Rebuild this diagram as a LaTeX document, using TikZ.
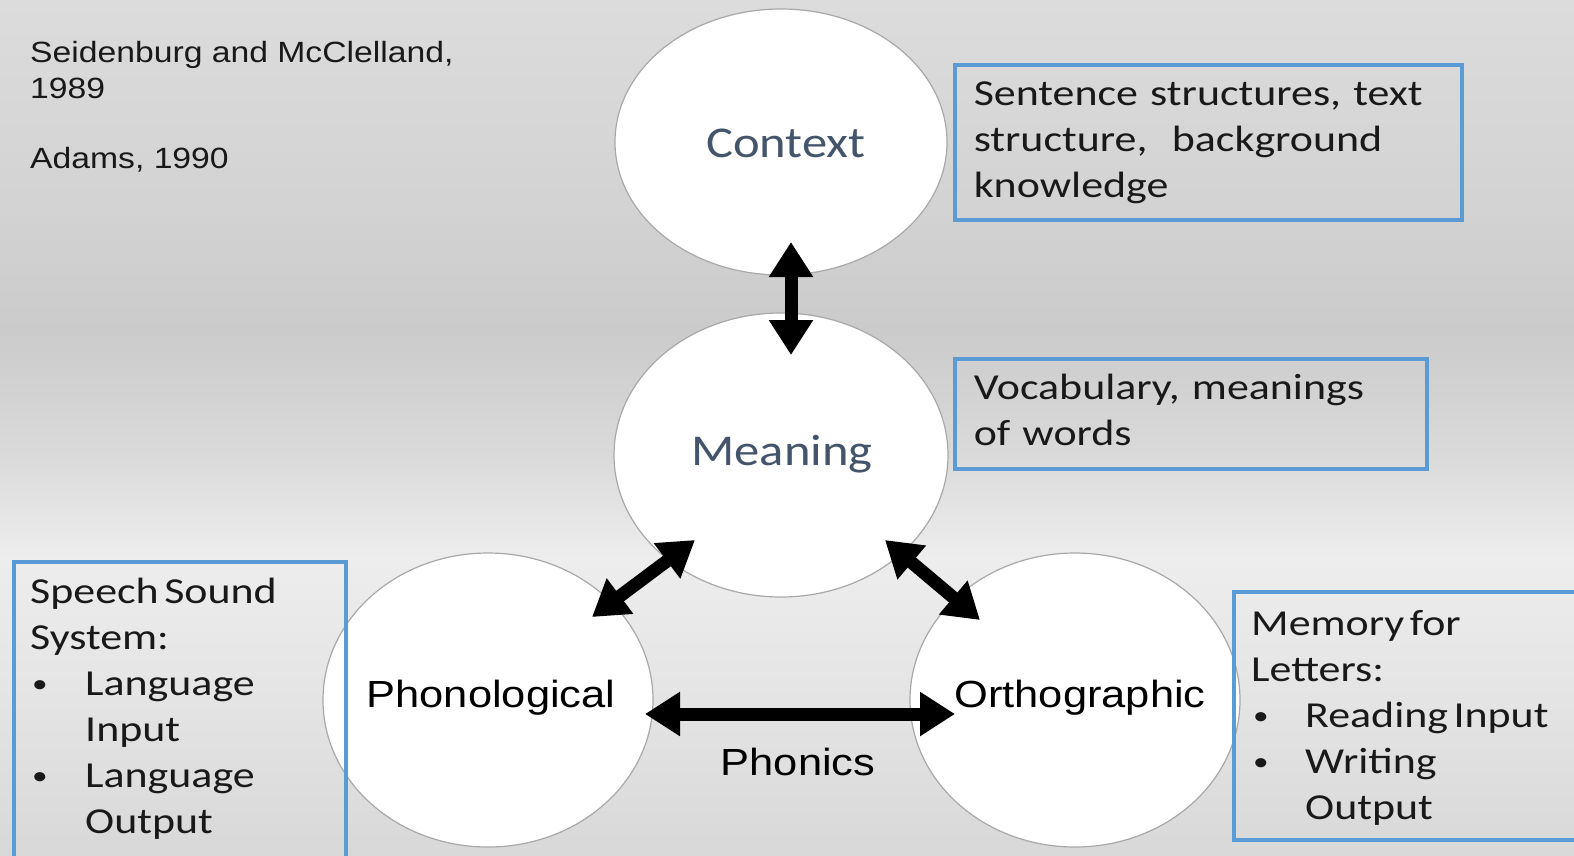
\documentclass[tikz,border=0pt]{standalone}
\usepackage{fontspec}
\usetikzlibrary{shapes.geometric,arrows.meta}

% Slightly widened faces, as on a stretched slide
\newfontfamily\citefont[FakeStretch=1.15]{Liberation Sans}
\newfontfamily\notefont[FakeStretch=1.2]{Carlito}
\newfontfamily\bubblefont[FakeStretch=1.15]{Carlito}
\newcommand{\itemdot}{{\fontsize{26}{26}\selectfont\raisebox{3pt}{•}}}
\newcommand{\notesize}{\notefont\fontsize{36.6}{46}\selectfont\spaceskip=5.5pt plus 3pt minus 1pt\relax}

\definecolor{boxblue}{HTML}{5B9BD5}
\definecolor{slate}{HTML}{44546A}
\definecolor{rim}{HTML}{A8A8A8}
\definecolor{bgA}{HTML}{D8D8D8}
\definecolor{bgB}{HTML}{E4E4E4}
\definecolor{bgC}{HTML}{EDEDED}
\definecolor{bgD}{HTML}{D9D9D9}
\definecolor{bgE}{HTML}{CBCBCB}
\definecolor{bgF}{HTML}{D3D3D3}
\definecolor{bgG}{HTML}{DCDCDC}

% Slide background: grey band in the middle, lighter band lower down
\pgfdeclareverticalshading{slidebg}{100bp}{%
  color(0bp)=(bgA); color(25bp)=(bgA); color(34bp)=(bgB); color(42.3bp)=(bgC);
  color(48.7bp)=(bgD); color(55.7bp)=(bgE); color(63.3bp)=(bgF);
  color(75bp)=(bgG); color(100bp)=(bgG)}

\tikzset{
  bubble/.style={ellipse, draw=rim, line width=1.2pt, fill=white, inner sep=0pt},
  bubbletext/.style={font=\bubblefont\fontsize{44}{50}\selectfont, text=slate},
  nodetext/.style={font=\citefont\fontsize{37.8}{45}\selectfont, text=black},
  note/.style={draw=boxblue, line width=3.5pt, inner ysep=0pt, inner xsep=19pt,
    align=left, font=\notesize, text=black!90},
  notetext/.style={inner sep=0pt, align=left, font=\notesize, text=black!90},
  cite/.style={inner sep=0pt, align=left,
    font=\citefont\fontsize{29.3}{36}\selectfont, text=black!90},
  link/.style={line width=13pt,
    {Triangle[width=42pt,length=35pt]}-{Triangle[width=42pt,length=35pt]}}
}

\begin{document}
\begin{tikzpicture}[x=1pt, y=-1pt]
  \useasboundingbox (0,0) rectangle (1574,855);
  \clip (0,0) rectangle (1574,855);
  \path[shading=slidebg] (0,0) rectangle (1574,855);

  % References
  \node[cite, anchor=west] (ref1) at (30,73)
    {\strut Seidenburg and McClelland,\\\strut 1989};
  \node[cite, anchor=west] (ref2) at (30,161) {\strut Adams, 1990};

  % The four processors
  \node[bubble, minimum width=332pt, minimum height=266pt] (ctx) at (781,142) {};
  \node[bubble, minimum width=334pt, minimum height=284pt] (mng) at (781,455) {};
  \node[bubble, minimum width=330pt, minimum height=294pt] (pho) at (488,700) {};
  \node[bubble, minimum width=330pt, minimum height=294pt] (ort) at (1075,700) {};

  \node[bubbletext] (ctxlabel) at ([xshift=5pt,yshift=-1pt]ctx.center) {Context};
  \node[bubbletext] (mnglabel) at ([xshift=1pt,yshift=1pt]mng.center) {Meaning};
  \node[nodetext] (pholabel) at ([xshift=3pt,yshift=2pt]pho.center) {Phonological};
  \node[nodetext] (ortlabel) at ([xshift=5pt,yshift=2pt]ort.center) {Orthographic};

  % Arrow ends
  \coordinate (cmA) at (791,242);
  \coordinate (cmB) at (791,355);
  \coordinate (mpA) at (695,540);
  \coordinate (mpB) at (592,617);
  \coordinate (moA) at (885,540);
  \coordinate (moB) at (980,620);
  \coordinate (poA) at (645,714);
  \coordinate (poB) at (955,714);

  \draw[link] (cmA) -- (cmB);
  \draw[link] (mpA) -- (mpB);
  \draw[link] (moA) -- (moB);
  \draw[link] (poA) -- (poB);

  \node[nodetext] (phonics) at (798,762) {Phonics};

  % Notes
  \node[note, anchor=north west, minimum height=155pt, text width=469pt] (ctxnote) at (953,63)
    {\strut Sentence structures, text\\\strut structure,\ \ background\\\strut knowledge};
  \node[note, anchor=north west, minimum height=110pt, text width=434pt] (mngnote) at (953,357)
    {\strut Vocabulary, meanings\\\strut of words};

  \node[note, anchor=north west, minimum width=332pt, minimum height=330pt] (phoframe) at (12,560) {};
  \node[notetext, anchor=west] (phonote) at (30,709)
    {\strut Speech Sound\\\strut System:\\
     \strut\makebox[55pt][l]{\hspace{2pt}\itemdot}Language\\\strut\hspace*{55pt}Input\\
     \strut\makebox[55pt][l]{\hspace{2pt}\itemdot}Language\\\strut\hspace*{55pt}Output};

  \node[note, anchor=north west, minimum width=380pt, minimum height=248pt] (ortframe) at (1232,590) {};
  \node[notetext, anchor=west] (ortnote) at (1251,718)
    {\strut Memory for\\\strut Letters:\\
     \strut\makebox[54pt][l]{\hspace{2pt}\itemdot}Reading Input\\
     \strut\makebox[54pt][l]{\hspace{2pt}\itemdot}Writing\\\strut\hspace*{54pt}Output};
\end{tikzpicture}
\end{document}
